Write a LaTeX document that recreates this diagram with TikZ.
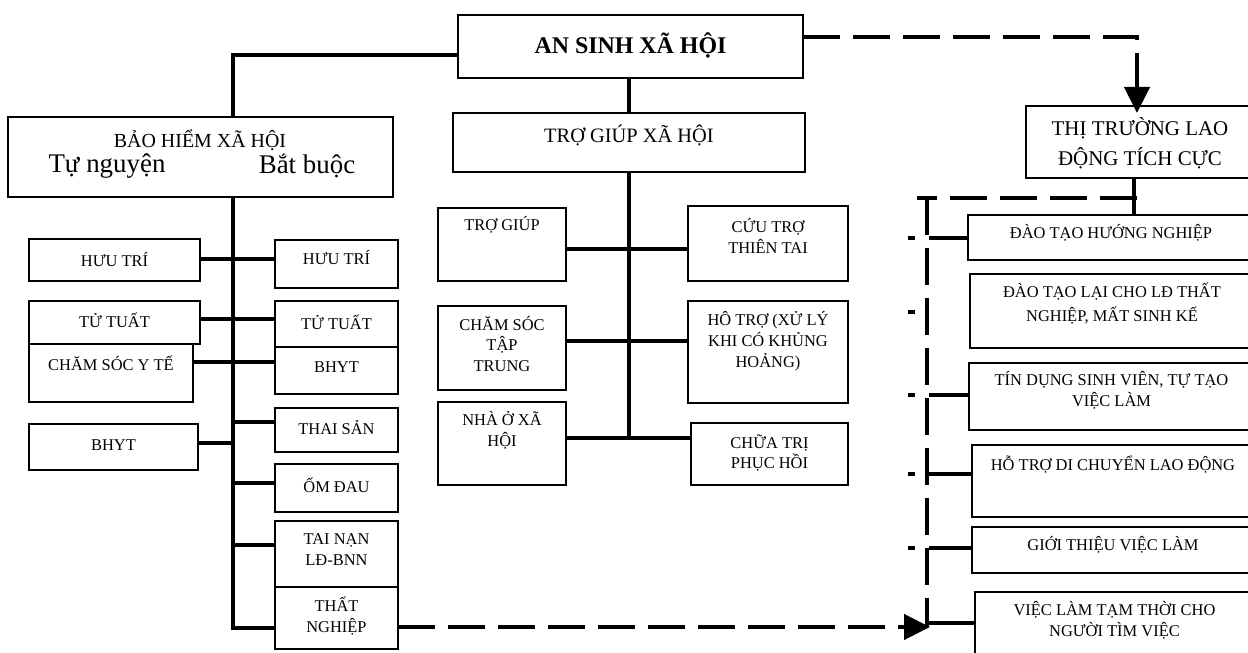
\documentclass[tikz,border=0pt]{standalone}
\usepackage{fontspec}
\setmainfont{Liberation Serif}
\usetikzlibrary{arrows.meta,calc}
\pgfdeclarelayer{bg}
\pgfsetlayers{bg,main}
\tikzset{
 box/.style={draw, line width=2bp, fill=white, inner sep=0pt, outer sep=0pt, rectangle},
 txt/.style={align=center, inner sep=0pt, font=\fontsize{16.5}{21}\selectfont},
 conn/.style={line width=4.5bp},
 dconn/.style={line width=4.5bp, dash pattern=on 37bp off 13bp},
 stub/.style={line width=4.5bp, dash pattern=on 7bp off 14bp on 400bp},
 tip/.style={-{Triangle[length=26bp,width=25bp]}},
}
\newcommand\bx[8][]{%
 \node[box, minimum width={(#5-#3)*1bp}, minimum height={(#6-#4)*1bp}] (#2) at ({(#3+#5)/2},{(#4+#6)/2}) {};
 \node[txt,#1] (#2t) at ({(#3+#5)/2},#7) {#8};}
\begin{document}
\begin{tikzpicture}[x=1bp,y=-1bp]
\useasboundingbox (0,0) rectangle (1248,653);
% top
\bx[font=\fontsize{24}{28}\selectfont\bfseries]{top}{458}{15}{803}{78}{45}{AN SINH XÃ HỘI}
% BHXH
\node[box, minimum width=385bp, minimum height=80bp] (bhxh) at (200.5,157) {};
\node[txt, font=\fontsize{20}{24}\selectfont] (bhxht) at (200,140) {BẢO HIỂM XÃ HỘI};
\node[txt, font=\fontsize{27}{30}\selectfont] (tn) at (107,166) {Tự nguyện};
\node[txt, font=\fontsize{27}{30}\selectfont] (bb) at (307,166) {Bắt buộc};
% TGXH
\bx[font=\fontsize{20.5}{24}\selectfont]{tgxh}{453}{113}{805}{172}{135}{TRỢ GIÚP XÃ HỘI}
% TTLD
\bx[font=\fontsize{21}{30}\selectfont]{ttld}{1026}{106}{1254}{178}{143}{THỊ TRƯỜNG LAO\\ĐỘNG TÍCH CỰC}
% left column
\bx{lht}{29}{239}{200}{281}{260}{HƯU TRÍ}
\bx{ltt}{29}{301}{200}{344}{320}{TỬ TUẤT}
\bx{lcs}{29}{344}{193}{402}{363}{CHĂM SÓC Y TẾ}
\bx{lbh}{29}{424}{198}{470}{445}{BHYT}
% right of left trunk
\bx{rht}{275}{240}{398}{288}{258}{HƯU TRÍ}
\bx{rtt}{275}{301}{398}{347}{322}{TỬ TUẤT}
\bx{rbh}{275}{347}{398}{394}{367}{BHYT}
\bx{ts}{275}{408}{398}{452}{428}{THAI SẢN}
\bx{od}{275}{464}{398}{512}{485}{ỐM ĐAU}
\bx{tnld}{275}{521}{398}{587}{550}{TAI NẠN\\LĐ-BNN}
\bx{thn}{275}{587}{398}{649}{616}{THẤT\\NGHIỆP}
% middle
\bx{tg}{438}{208}{566}{281}{225}{TRỢ GIÚP}
\bx{ct}{688}{206}{848}{281}{236}{CỨU TRỢ\\THIÊN TAI}
\bx{cstt}{438}{306}{566}{390}{344}{CHĂM SÓC\\TẬP\\TRUNG}
\bx{ht}{688}{301}{848}{403}{341}{HÔ TRỢ (XỬ LÝ\\KHI CÓ KHỦNG\\HOẢNG)}
\bx{no}{438}{402}{566}{485}{430}{NHÀ Ở XÃ\\HỘI}
\bx{ctr}{691}{423}{848}{485}{453}{CHỮA TRỊ\\PHỤC HỒI}
% right column
\bx{dthn}{968}{215}{1254}{260}{233}{ĐÀO TẠO HƯỚNG NGHIỆP}
\bx[font=\fontsize{16.5}{24}\selectfont]{dtl}{970}{274}{1254}{348}{304}{ĐÀO TẠO LẠI CHO LĐ THẤT\\NGHIỆP, MẤT SINH KẾ}
\bx{tdsv}{969}{363}{1254}{430}{390}{TÍN DỤNG SINH VIÊN, TỰ TẠO\\VIỆC LÀM}
\bx{htdc}{972}{445}{1254}{517}{465}{HỖ TRỢ DI CHUYỂN LAO ĐỘNG}
\bx{gtvl}{972}{527}{1254}{573}{545}{GIỚI THIỆU VIỆC LÀM}
\bx{vltt}{975}{592}{1254}{662}{620}{VIỆC LÀM TẠM THỜI CHO\\NGƯỜI TÌM VIỆC}
% coordinates
\coordinate (ltop) at (233,55);
\coordinate (lbot) at (233,628);
\coordinate (mbot) at (629,437);
\coordinate (dtr) at (1137,198);
\coordinate (dtl) at (917,198);
\coordinate (dvt) at (927,198);
\coordinate (dvb) at (927,627);
\begin{pgfonlayer}{bg}
 \draw[conn] (top.west |- ltop) -- (ltop) -- (lbot) -- (thn.west |- lbot);
 \draw[conn] (lht.east |- 0,259) -- (rht.west |- 0,259);
 \draw[conn] (ltt.east |- 0,319) -- (rtt.west |- 0,319);
 \draw[conn] (lcs.east |- 0,362) -- (rbh.west |- 0,362);
 \draw[conn] (lbh.east |- 0,443) -- (ltop |- 0,443);
 \draw[conn] (ltop |- 0,422) -- (ts.west |- 0,422);
 \draw[conn] (ltop |- 0,483) -- (od.west |- 0,483);
 \draw[conn] (ltop |- 0,545) -- (tnld.west |- 0,545);
 \draw[conn] (top.south -| mbot) -- (tgxh.north -| mbot);
 \draw[conn] (tgxh.south -| mbot) -- (mbot);
 \draw[conn] (tg.east |- 0,249) -- (ct.west |- 0,249);
 \draw[conn] (cstt.east |- 0,341) -- (ht.west |- 0,341);
 \draw[conn] (no.east |- 0,438) -- (ctr.west |- 0,438);
 \draw[conn] (ttld.south -| 1134,0) -- (dthn.north -| 1134,0);
 \draw[dconn] (dtr) -- (dtl);
 \draw[dconn] (dvt) -- (dvb);
 \draw[stub] (908,238) -- (dthn.west |- 0,238);
 \draw[stub] (908,312) -- (dtl.west |- 0,312);
 \draw[stub] (908,395) -- (tdsv.west |- 0,395);
 \draw[stub] (908,474) -- (htdc.west |- 0,474);
 \draw[stub] (908,548) -- (gtvl.west |- 0,548);
 \draw[stub] (908,623) -- (vltt.west |- 0,623);
\end{pgfonlayer}
% arrows
\draw[dconn, tip] (top.east |- 0,37) -- (1137,37) -- ($(ttld.north -| 1137,0)+(0,7)$);
\draw[dconn, tip] (thn.east |- 0,627) -- (930,627);
\end{tikzpicture}
\end{document}
